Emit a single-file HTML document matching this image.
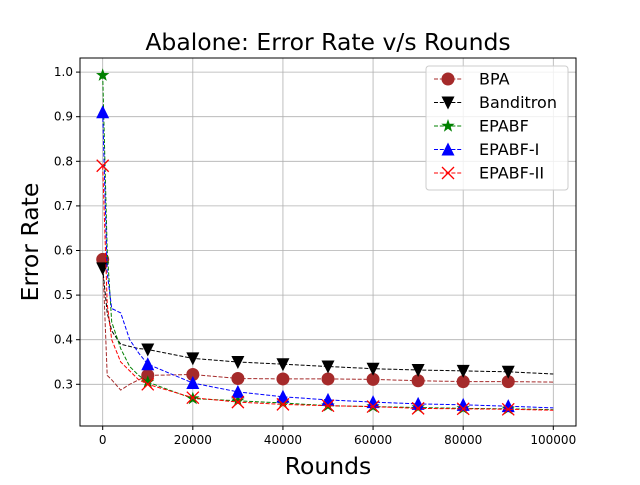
<!DOCTYPE html>
<html><head><meta charset="utf-8"><style>body{margin:0;background:#fff}svg{font-family:"DejaVu Sans","Liberation Sans",sans-serif}</style></head>
<body>
<svg id="c" width="640" height="480"></svg>
<script>
const rounds=[0,1000,2000,4000,6000,8000,10000,20000,30000,40000,50000,60000,70000,80000,90000,100000];
const bpa=[0.58,0.32,0.31,0.287,0.30,0.31,0.32,0.322,0.313,0.312,0.312,0.311,0.308,0.306,0.306,0.305];
const banditron=[0.56,0.46,0.42,0.39,0.385,0.38,0.378,0.358,0.35,0.345,0.34,0.335,0.332,0.33,0.328,0.323];
const epabf=[0.993,0.6,0.44,0.38,0.34,0.32,0.305,0.268,0.263,0.258,0.252,0.25,0.248,0.246,0.245,0.243];
const epabf1=[0.91,0.55,0.47,0.46,0.40,0.37,0.345,0.303,0.283,0.272,0.265,0.26,0.256,0.254,0.251,0.247];
const epabf2=[0.79,0.48,0.40,0.35,0.33,0.31,0.30,0.27,0.26,0.255,0.252,0.25,0.246,0.245,0.244,0.242];
const xTicks=[0,20000,40000,60000,80000,100000];
const yTicks=[0.3,0.4,0.5,0.6,0.7,0.8,0.9,1.0];
const series=[["BPA",bpa,"#a52a2a","circle"],["Banditron",banditron,"#000","tdown"],["EPABF",epabf,"#008000","star"],["EPABF-I",epabf1,"#0000ff","tup"],["EPABF-II",epabf2,"#ff0000","x"]];
const L=80,R=576,T=58,B=426;
const X=v=>102.7+v*0.004506, Y=v=>384.3-(v-0.3)*446;
const svg=document.getElementById('c'),NS="http://www.w3.org/2000/svg";
function el(t,a,p){const e=document.createElementNS(NS,t);for(const k in a)e.setAttribute(k,a[k]);(p||svg).appendChild(e);return e;}
xTicks.forEach(t=>{const g=el('line',{x1:X(t),x2:X(t),y1:T,y2:B,stroke:'#b0b0b0','stroke-width':0.8});

el('line',{x1:X(t),x2:X(t),y1:B,y2:B+4,stroke:'#000'});
const tx=el('text',{x:X(t),y:B+18,'text-anchor':'middle','font-size':12});tx.textContent=t;
});
yTicks.forEach(t=>{const g=el('line',{x1:L,x2:R,y1:Y(t),y2:Y(t),stroke:'#b0b0b0','stroke-width':0.8});

el('line',{x1:L-4,x2:L,y1:Y(t),y2:Y(t),stroke:'#000'});
const tx=el('text',{x:L-7,y:Y(t)+4,'text-anchor':'end','font-size':12});tx.textContent=t.toFixed(1);
});
function marker(type,x,y,c,g){
 if(type=='circle')return el('circle',{cx:x,cy:y,r:6.5,fill:c},g);
 if(type=='tdown')return el('path',{d:`M${x-6.5},${y-6} L${x+6.5},${y-6} L${x},${y+7}Z`,fill:c},g);
 if(type=='tup')return el('path',{d:`M${x-6.5},${y+6} L${x+6.5},${y+6} L${x},${y-7}Z`,fill:c},g);
 if(type=='star'){let p='';for(let i=0;i<10;i++){const r=i%2?2.8:7,a=-Math.PI/2+i*Math.PI/5;p+=(i?'L':'M')+(x+r*Math.cos(a)).toFixed(1)+','+(y+r*Math.sin(a)).toFixed(1);}return el('path',{d:p+'Z',fill:c},g);}
 return el('path',{d:`M${x-6},${y-6}L${x+6},${y+6}M${x-6},${y+6}L${x+6},${y-6}`,stroke:c,'stroke-width':1.3,fill:'none'},g);
}
series.forEach(([name,vals,c,m])=>{
 const g=el('g',{});
 const d=vals.map((v,i)=>(i?'L':'M')+X(rounds[i]).toFixed(1)+','+Y(v).toFixed(1)).join('');
 el('path',{d,fill:'none',stroke:c,'stroke-width':1,'stroke-dasharray':'4,1.8'},g);
 vals.forEach((v,i)=>{if(rounds[i]%10000==0&&rounds[i]<100000){const mk=marker(m,X(rounds[i]),Y(v),c,g);}});
});
el('rect',{x:L,y:T,width:R-L,height:B-T,fill:'none',stroke:'#000','stroke-width':1});
const title=el('text',{x:328,y:50,'text-anchor':'middle','font-size':23.5});title.textContent='Abalone: Error Rate v/s Rounds';

const xl=el('text',{x:328,y:474,'text-anchor':'middle','font-size':23.5});xl.textContent='Rounds';

const yl=el('text',{x:0,y:0,'text-anchor':'middle','font-size':23.5,transform:'translate(38,242) rotate(-90)'});yl.textContent='Error Rate';

const lg=el('g',{});
el('rect',{x:426,y:66,width:142,height:124,rx:3,fill:'#fff','fill-opacity':0.8,stroke:'#ccc'},lg);
series.forEach(([name,vals,c,m],i)=>{const y=79+i*23.5;
 const e=el('g',{},lg);
 el('line',{x1:434,x2:462,y1:y,y2:y,stroke:c,'stroke-dasharray':'4,1.8'},e);marker(m,448,y,c,e);
 const t=el('text',{x:479,y:y+5.5,'font-size':16},e);t.textContent=name;});
</script>
</body></html>
